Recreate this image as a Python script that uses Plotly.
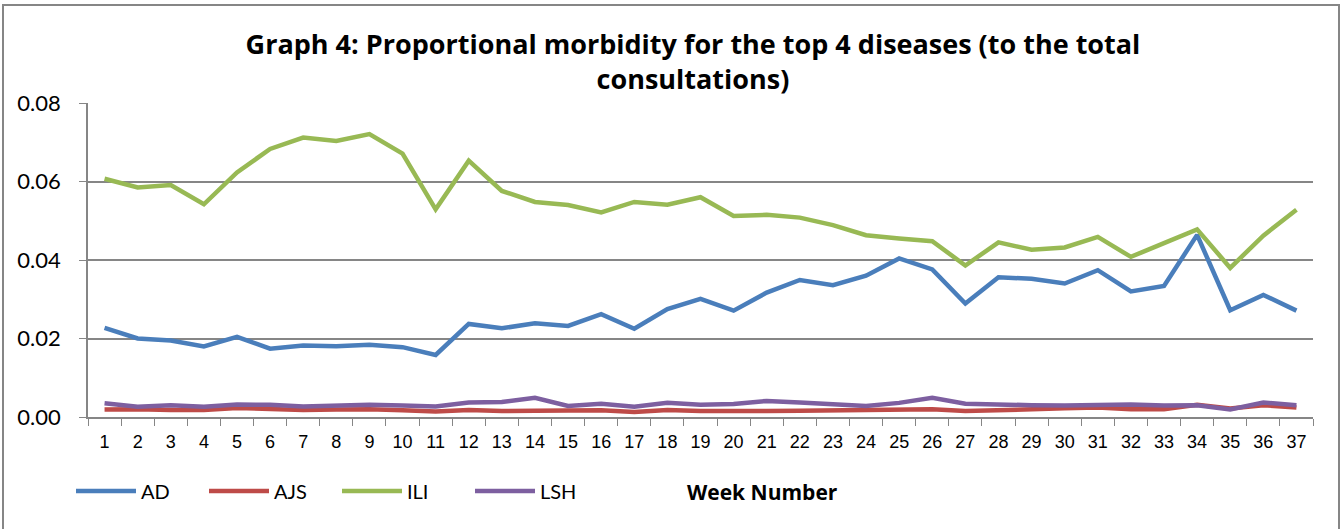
import plotly.graph_objects as go

# Week numbers on the x axis
weeks = [str(w) for w in range(1, 38)]

# Proportional morbidity
ad = [0.0227, 0.0200, 0.0195, 0.0180, 0.0204, 0.0174, 0.0182, 0.0180, 0.0184, 0.0178,
      0.0158, 0.0237, 0.0226, 0.0239, 0.0232, 0.0262, 0.0225, 0.0275, 0.0301, 0.0271,
      0.0317, 0.0349, 0.0336, 0.0360, 0.0404, 0.0376, 0.0289, 0.0356, 0.0352, 0.0340,
      0.0374, 0.0320, 0.0334, 0.0464, 0.0272, 0.0311, 0.0271]
ajs = [0.0019, 0.0020, 0.0018, 0.0018, 0.0023, 0.0020, 0.0018, 0.0019, 0.0020, 0.0017,
       0.0014, 0.0018, 0.0015, 0.0016, 0.0016, 0.0017, 0.0013, 0.0018, 0.0015, 0.0014,
       0.0015, 0.0016, 0.0017, 0.0016, 0.0017, 0.0020, 0.0015, 0.0018, 0.0021, 0.0022,
       0.0024, 0.0020, 0.0020, 0.0031, 0.0022, 0.0030, 0.0024]
ili = [0.0607, 0.0585, 0.0591, 0.0542, 0.0623, 0.0683, 0.0712, 0.0703, 0.0721, 0.0671,
       0.0529, 0.0653, 0.0576, 0.0548, 0.0540, 0.0521, 0.0548, 0.0541, 0.0560, 0.0512,
       0.0515, 0.0508, 0.0489, 0.0463, 0.0455, 0.0448, 0.0386, 0.0445, 0.0426, 0.0432,
       0.0459, 0.0408, 0.0443, 0.0478, 0.0380, 0.0462, 0.0528]
lsh = [0.0035, 0.0026, 0.0030, 0.0026, 0.0032, 0.0031, 0.0027, 0.0028, 0.0031, 0.0029,
       0.0027, 0.0037, 0.0038, 0.0049, 0.0028, 0.0034, 0.0026, 0.0036, 0.0031, 0.0033,
       0.0041, 0.0037, 0.0032, 0.0028, 0.0036, 0.0049, 0.0034, 0.0031, 0.0030, 0.0029,
       0.0030, 0.0032, 0.0029, 0.0030, 0.0019, 0.0037, 0.0030]

series = [("AD", ad, "#4A7EBB"), ("AJS", ajs, "#BE4B48"),
          ("ILI", ili, "#98B954"), ("LSH", lsh, "#7D5FA0")]

body_font = "Lato"
bold_font = "Open Sans"
grey = "#868686"

fig = go.Figure()
for name, vals, col in series:
    fig.add_trace(go.Scatter(x=weeks, y=vals, name=name, mode="lines",
                             line=dict(color=col, width=4.5)))

fig.update_layout(
    width=1343, height=529,
    margin=dict(l=88, r=30, t=103, b=112),
    paper_bgcolor="white", plot_bgcolor="white",
    font=dict(family=body_font, color="black"),
    title=dict(text="<b>Graph 4: Proportional morbidity for the top 4 diseases (to the total<br>consultations)</b>",
               x=0.516, xanchor="center", y=1 - 54 / 529, yanchor="top",
               font=dict(size=27, family=bold_font)),
    legend=dict(orientation="h", x=(71 - 88) / 1225, xanchor="left",
                y=(417 - 491) / 314, yanchor="middle",
                font=dict(size=20), entrywidth=58, entrywidthmode="pixels",
                itemwidth=60, bgcolor="rgba(0,0,0,0)"),
    showlegend=True,
)

fig.update_xaxes(type="category", range=[-0.5, 36.5], showgrid=False, showline=True,
                 linecolor=grey, linewidth=1.5, ticks="outside", tickson="boundaries",
                 ticklen=7, tickcolor=grey, ticklabelstandoff=8,
                 tickfont=dict(size=18, family="Liberation Sans"))
fig.update_yaxes(range=[0, 0.08], dtick=0.02, tickformat=".2f", showgrid=True,
                 gridcolor=grey, gridwidth=1.5, showline=True, linecolor=grey,
                 linewidth=1.5, ticks="outside", ticklen=7, tickcolor=grey,
                 ticklabelstandoff=14, tickfont=dict(size=22), zeroline=False)

fig.add_annotation(text="<b>Week Number</b>", x=(762 - 88) / 1225, xref="paper",
                   y=(417 - 492) / 314, yref="paper", showarrow=False,
                   font=dict(size=21, family=bold_font), yanchor="middle")

# gray border around the chart area
fig.add_shape(type="rect", xref="paper", yref="paper",
              x0=(3 - 88) / 1225, x1=(1339 - 88) / 1225,
              y0=(417 - 540) / 314, y1=(417 - 5) / 314,
              line=dict(color=grey, width=2), layer="below")

fig.write_html("out.html", config={"displayModeBar": False},
               post_script="document.body.style.margin='0';")
